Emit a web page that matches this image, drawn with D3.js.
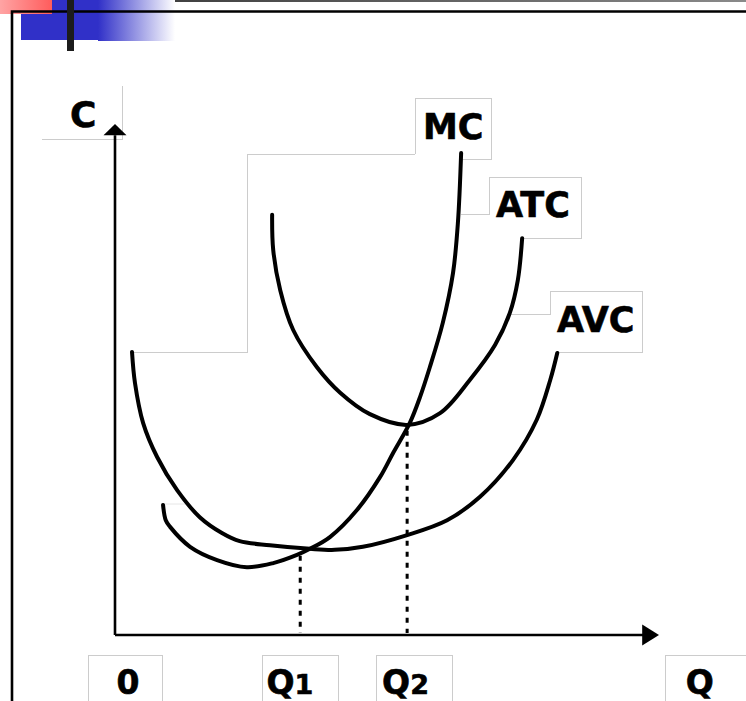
<!DOCTYPE html>
<html>
<head>
<meta charset="utf-8">
<script src="https://cdn.jsdelivr.net/npm/d3@7"></script>
<style>
  html, body { margin: 0; padding: 0; background: #fff; }
  svg { display: block; }
</style>
</head>
<body>
<svg id="chart" width="746" height="701"></svg>
<script>
// ---- data (quantity Q, cost C in arbitrary units) ----
const mcQ  = [8.9, 9.4, 10.2, 13.9, 18.9, 24.4, 29.3, 33.7, 36.1, 39.8, 44.8, 49.1, 51.5, 54.6, 56.5, 58.3, 60.7, 62.6, 63.5, 64.1];
const mcC  = [25.5, 22.5, 21.2, 17.3, 14.7, 13.3, 14.1, 15.7, 16.9, 19.2, 24.5, 31.0, 35.7, 41.6, 46.7, 52.5, 61.2, 71.0, 80.8, 94.5];
const atcQ = [29.1, 29.3, 30.6, 33.0, 37.4, 41.7, 47.2, 54.1, 60.2, 65.7, 70.4, 73.1, 74.6, 75.4];
const atcC = [82.4, 75.5, 67.6, 59.8, 52.5, 47.5, 43.3, 41.2, 43.5, 50.0, 56.9, 63.1, 69.6, 77.8];
const avcQ = [3.15, 3.7, 5.2, 7.8, 11.5, 15.7, 19.8, 23.1, 28.7, 36.1, 40.7, 45.9, 54.1, 61.5, 67.6, 73.7, 78.1, 80.6, 81.9];
const avcC = [55.5, 49.4, 41.6, 34.9, 28.4, 23.1, 20.0, 18.4, 17.6, 16.9, 16.7, 17.3, 19.6, 22.5, 27.1, 34.3, 42.2, 50.0, 55.3];

const curveNames = ["MC", "ATC", "AVC"];
const qMarks     = [34.3, 54.1];        // Q1 (MC = AVC), Q2 (MC = ATC)
const qMarkCost  = [16.9, 41.4];
const xTickText  = ["0", "Q", "Q", "Q"];
const xTickSub   = ["", "1", "2", ""];
const xTickQ     = [2.4, 32.4, 53.8, 108.3];
const yAxisLabel = "C";

// ---- scales ----
const x = d3.scaleLinear().domain([0, 100]).range([115, 655]);
const y = d3.scaleLinear().domain([0, 100]).range([635, 125]);

const svg = d3.select("#chart");
const FONT = "'DejaVu Sans', Verdana, sans-serif";

// ---- slide decoration ----
const defs = svg.append("defs");
const gBlue = defs.append("linearGradient").attr("id", "gBlue");
gBlue.append("stop").attr("offset", "0%").attr("stop-color", "#3030c8");
gBlue.append("stop").attr("offset", "100%").attr("stop-color", "#ffffff");
const gRed = defs.append("linearGradient").attr("id", "gRed");
gRed.append("stop").attr("offset", "0%").attr("stop-color", "#ffa4a4");
gRed.append("stop").attr("offset", "100%").attr("stop-color", "#ff5c5c");
const gGray = defs.append("linearGradient").attr("id", "gGray");
gGray.append("stop").attr("offset", "0%").attr("stop-color", "#2a2a2a");
gGray.append("stop").attr("offset", "100%").attr("stop-color", "#8a8a8a");

svg.append("rect").attr("x", 0).attr("y", 0).attr("width", 746).attr("height", 2).attr("fill", "url(#gGray)");
svg.append("rect").attr("x", 21).attr("y", 0).attr("width", 78).attr("height", 40).attr("fill", "#3030c8");
svg.append("rect").attr("x", 98).attr("y", 0).attr("width", 77).attr("height", 41).attr("fill", "url(#gBlue)");
svg.append("rect").attr("x", 0).attr("y", 0).attr("width", 52).attr("height", 14).attr("fill", "url(#gRed)");
// slide frame
svg.append("path").attr("d", "M12,701 V11.5 H746").attr("fill", "none")
  .attr("stroke", "#000").attr("stroke-width", 2.6);
svg.append("rect").attr("x", 67).attr("y", 0).attr("width", 7).attr("height", 51).attr("fill", "#1c1c1c");

// ---- light gray text-box / shape outlines ----
const outlines = [
  "M42,139 H122 V86",
  "M133,352 H247 V154 H415",
  "M415,154 V98 H491 V159 H461",
  "M461,214 H489 V177 H581 V238 H522",
  "M510,314 H550 V291 H642 V352 H556",
  "M88,701 V655 H162 V701",
  "M262,701 V655 H338 V701",
  "M376,701 V655 H452 V701",
  "M665,701 V655 H746"
];
svg.append("g").selectAll("path").data(outlines).join("path")
  .attr("d", d => d).attr("fill", "none").attr("stroke", "#cccccc").attr("stroke-width", 1)
  .attr("shape-rendering", "crispEdges");
svg.append("path").attr("d", "M163,504 H186").attr("stroke", "#e6e6e6").attr("stroke-width", 1);

// ---- axes ----
const axisG = svg.append("g");
axisG.append("line")
  .attr("x1", x(0)).attr("y1", y(0)).attr("x2", x(0)).attr("y2", y(98))
  .attr("stroke", "#000").attr("stroke-width", 2.6);
axisG.append("path")
  .attr("d", `M${x(0)},${y(100) - 1} L${x(0) - 11.5},${y(98)} L${x(0) + 11.5},${y(98)} Z`)
  .attr("fill", "#000");
axisG.append("line")
  .attr("x1", x(0)).attr("y1", y(0)).attr("x2", x(98)).attr("y2", y(0))
  .attr("stroke", "#000").attr("stroke-width", 2.6);
axisG.append("path")
  .attr("d", `M${x(100) + 4},${y(0)} L${x(98) - 2},${y(0) - 10.5} L${x(98) - 2},${y(0) + 10.5} Z`)
  .attr("fill", "#000");

// ---- dashed guide lines ----
svg.append("g").selectAll("line").data(qMarks).join("line")
  .attr("x1", d => x(d)).attr("x2", d => x(d))
  .attr("y1", (d, i) => y(qMarkCost[i]) + 7).attr("y2", y(0) - 2)
  .attr("stroke", "#000").attr("stroke-width", 3).attr("stroke-dasharray", "5,6");

// ---- cost curves ----
const series = [
  { name: curveNames[0], q: mcQ,  c: mcC },
  { name: curveNames[1], q: atcQ, c: atcC },
  { name: curveNames[2], q: avcQ, c: avcC }
];
const line = d3.line()
  .x(d => x(d[0])).y(d => y(d[1]))
  .curve(d3.curveCatmullRom.alpha(0.5));
svg.append("g").selectAll("path").data(series).join("path")
  .attr("d", s => line(s.q.map((q, i) => [q, s.c[i]])))
  .attr("fill", "none").attr("stroke", "#000").attr("stroke-width", 4)
  .attr("stroke-linecap", "round");

// ---- curve labels ----
const labelAt = [ [423, 139], [496, 217], [557, 332] ];
svg.append("g").selectAll("text").data(curveNames).join("text")
  .attr("x", (d, i) => labelAt[i][0]).attr("y", (d, i) => labelAt[i][1])
  .attr("font-family", FONT).attr("font-weight", "bold").attr("font-size", 35)
  .attr("fill", "#000").attr("stroke", "#000").attr("stroke-width", 0.6)
  .text(d => d);

svg.append("text").attr("x", x(0) - 45).attr("y", 127)
  .attr("font-family", FONT).attr("font-weight", "bold").attr("font-size", 36)
  .attr("stroke", "#000").attr("stroke-width", 0.6)
  .text(yAxisLabel);

// ---- x tick labels ----
const tg = svg.append("g").selectAll("text").data(xTickText).join("text")
  .attr("x", (d, i) => x(xTickQ[i])).attr("y", 694)
  .attr("text-anchor", "middle")
  .attr("font-family", FONT).attr("font-weight", "bold").attr("font-size", 33)
  .attr("stroke", "#000").attr("stroke-width", 0.6);
tg.append("tspan").text(d => d);
tg.append("tspan").attr("font-size", 27).text((d, i) => xTickSub[i]);
</script>
</body>
</html>
